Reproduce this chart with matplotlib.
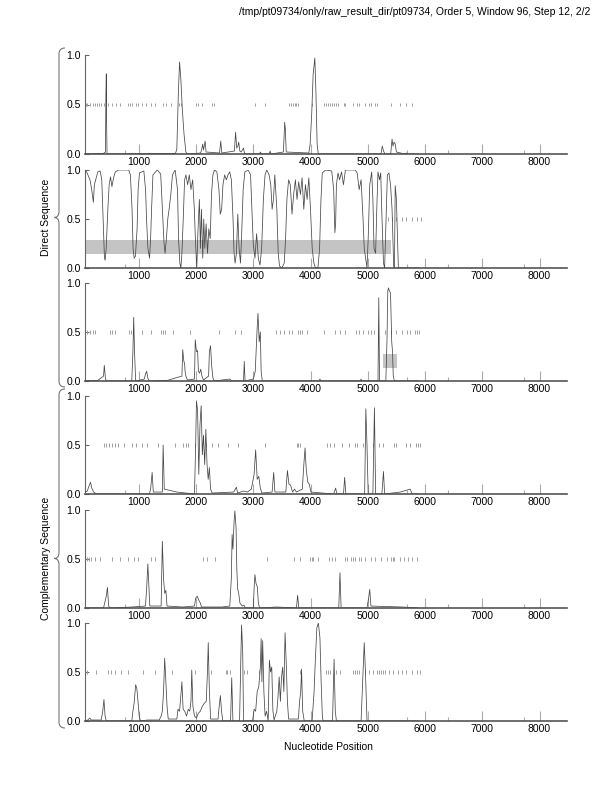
import numpy as np
import matplotlib
matplotlib.use("Agg")
import matplotlib.pyplot as plt
from matplotlib.path import Path
from matplotlib.patches import PathPatch, Rectangle

plt.rcParams['font.family'] = ['Liberation Sans', 'DejaVu Sans']

TITLE = "/tmp/pt09734/only/raw_result_dir/pt09734, Order 5, Window 96, Step 12, 2/2"
XTICKS = [1000, 2000, 3000, 4000, 5000, 6000, 7000, 8000]
MINOR_TICKS = [766, 5683, 6400, 7730]
YTICKS = [0.0, 0.5, 1.0]

# ---- panel 1 (direct, frame 1)
p1 = [(60, 0.0), (380, 0.005), (418, 0.02), (425, 0.6), (432, 0.81), (438, 0.3), (445, 0.0),
      (1640, 0.005), (1664, 0.05), (1690, 0.6), (1712, 0.93), (1735, 0.75), (1760, 0.45), (1790, 0.2),
      (1822, 0.02), (1850, 0.0), (2080, 0.01), (2100, 0.05), (2116, 0.1), (2130, 0.04), (2158, 0.13),
      (2175, 0.02), (2410, 0.01), (2431, 0.13), (2450, 0.01), (2670, 0.03), (2691, 0.22), (2710, 0.06),
      (2730, 0.08), (2745, 0.12), (2765, 0.03), (2790, 0.02), (2828, 0.06), (2850, 0.0), (3110, 0.0),
      (3123, 0.02), (3140, 0.0), (3280, 0.0), (3294, 0.03), (3310, 0.0), (3525, 0.02), (3540, 0.2),
      (3548, 0.32), (3560, 0.25), (3575, 0.02), (3970, 0.01), (3993, 0.1), (4020, 0.4), (4045, 0.8),
      (4075, 0.97), (4095, 0.6), (4115, 0.1), (4135, 0.0), (5230, 0.0), (5253, 0.08), (5275, 0.03),
      (5300, 0.0), (5400, 0.0), (5424, 0.15), (5440, 0.08), (5459, 0.12), (5479, 0.1), (5500, 0.02),
      (5650, 0.0), (5671, 0.01), (5700, 0.0), (5880, 0.0)]
p1_stops = [69, 103, 144, 192, 226, 274, 302, 343, 398, 466, 535, 603, 672, 809, 843, 877, 946, 980,
            1048, 1117, 1206, 1288, 1425, 1480, 1562, 1699, 1733, 2007, 2042, 2110, 2281, 2316, 3035,
            3206, 3617, 3651, 3686, 3720, 3754, 3788, 4028, 4234, 4268, 4302, 4336, 4371, 4405, 4439,
            4473, 4576, 4610, 4747, 4816, 4850, 4953, 5021, 5056, 5124, 5158, 5398, 5569, 5672, 5775]

# ---- panel 2 (direct, frame 2)
p2 = [(50, 0.99), (89, 0.98), (147, 0.9), (177, 0.8), (206, 0.67), (224, 0.85), (247, 0.9), (283, 0.98),
      (324, 0.99), (353, 0.9), (383, 0.4), (400, 0.1), (412, 0.08), (430, 0.2), (459, 0.6), (482, 0.85),
      (506, 0.93), (530, 0.83), (559, 0.92), (588, 0.98), (647, 1.0), (824, 1.0), (853, 0.95), (882, 0.6),
      (900, 0.2), (918, 0.1), (941, 0.12), (970, 0.4), (988, 0.8), (1012, 0.97), (1088, 0.99), (1118, 0.8),
      (1135, 0.5), (1159, 0.2), (1188, 0.1), (1206, 0.3), (1223, 0.6), (1247, 0.95), (1323, 1.0),
      (1382, 0.96), (1412, 0.6), (1441, 0.25), (1459, 0.15), (1482, 0.3), (1506, 0.5), (1529, 0.6),
      (1559, 0.75), (1588, 0.95), (1635, 1.0), (1676, 0.8), (1694, 0.3), (1717, 0.05), (1735, 0.0),
      (1753, 0.15), (1776, 0.5), (1800, 0.9), (1823, 0.95), (1853, 0.85), (1882, 0.95), (1911, 0.8),
      (1941, 0.9), (1970, 0.6), (1988, 0.3), (2012, 0.0), (2035, 0.4), (2058, 0.7), (2076, 0.2),
      (2094, 0.6), (2117, 0.1), (2135, 0.5), (2153, 0.2), (2176, 0.45), (2200, 0.15), (2223, 0.4),
      (2247, 0.3), (2270, 0.75), (2294, 0.95), (2323, 1.0), (2364, 0.98), (2400, 0.8), (2423, 0.55),
      (2447, 0.6), (2470, 0.85), (2500, 0.95), (2529, 0.9), (2558, 0.95), (2588, 0.98), (2617, 0.9),
      (2646, 0.5), (2664, 0.15), (2682, 0.05), (2705, 0.15), (2729, 0.55), (2752, 0.2), (2776, 0.05),
      (2794, 0.3), (2823, 0.8), (2852, 0.98), (2911, 1.0), (2952, 0.95), (2976, 0.6), (2999, 0.25),
      (3029, 0.1), (3058, 0.35), (3088, 0.1), (3117, 0.03), (3146, 0.2), (3176, 0.7), (3205, 0.95),
      (3235, 1.0), (3276, 0.95), (3305, 0.85), (3329, 0.6), (3352, 0.7), (3376, 0.95), (3411, 0.6),
      (3435, 0.15), (3458, 0.02), (3499, 0.0), (3540, 0.05), (3564, 0.3), (3587, 0.7), (3617, 0.9),
      (3646, 0.85), (3676, 0.55), (3705, 0.75), (3735, 0.9), (3764, 0.7), (3793, 0.88), (3823, 0.75),
      (3852, 0.92), (3882, 0.6), (3911, 0.85), (3940, 0.7), (3970, 0.92), (3999, 0.6), (4029, 0.2),
      (4058, 0.05), (4087, 0.0), (4129, 0.0), (4158, 0.2), (4182, 0.7), (4205, 0.97), (4264, 1.0),
      (4370, 0.99), (4404, 0.8), (4425, 0.36), (4438, 0.45), (4452, 0.85), (4480, 0.97), (4507, 0.9),
      (4541, 0.98), (4575, 0.85), (4609, 1.0), (4780, 1.0), (4815, 0.97), (4849, 0.8), (4883, 0.9),
      (4917, 0.5), (4938, 0.2), (4966, 0.08), (4986, 0.0), (5007, 0.3), (5034, 0.85), (5068, 0.98),
      (5089, 0.7), (5109, 0.2), (5137, 0.15), (5157, 0.6), (5178, 0.98), (5205, 0.9), (5226, 0.97),
      (5246, 0.55), (5274, 0.05), (5294, 0.0), (5315, 0.4), (5342, 0.95), (5369, 0.97), (5397, 0.85),
      (5424, 0.6), (5452, 0.02), (5466, 0.0), (5479, 0.84), (5500, 0.7), (5520, 0.3), (5534, 0.0),
      (5880, 0.0)]
p2_stops = [5349, 5418, 5500, 5589, 5671, 5774, 5863, 5931]
p2_box = (50, 5397, 0.142, 0.288)

# ---- panel 3 (direct, frame 3)
p3 = [(60, 0.0), (280, 0.005), (384, 0.05), (397, 0.16), (418, 0.02), (440, 0.0), (877, 0.0), (897, 0.3),
      (911, 0.65), (925, 0.3), (945, 0.0), (1096, 0.02), (1116, 0.07), (1137, 0.1), (1158, 0.03),
      (1180, 0.0), (1493, 0.005), (1753, 0.05), (1767, 0.32), (1787, 0.2), (1800, 0.18), (1808, 0.1),
      (1822, 0.05), (1850, 0.01), (1973, 0.02), (1986, 0.42), (2007, 0.3), (2027, 0.31), (2041, 0.1),
      (2062, 0.08), (2082, 0.12), (2103, 0.05), (2130, 0.01), (2219, 0.05), (2233, 0.3), (2253, 0.36),
      (2274, 0.15), (2295, 0.03), (2320, 0.0), (2589, 0.02), (2623, 0.0), (2829, 0.0), (2842, 0.2),
      (2856, 0.0), (3000, 0.02), (3034, 0.1), (3068, 0.55), (3082, 0.69), (3103, 0.4), (3123, 0.5),
      (3137, 0.1), (3157, 0.0), (4150, 0.0), (4164, 0.02), (4180, 0.0), (4870, 0.0), (4883, 0.02),
      (4895, 0.0), (5178, 0.0), (5192, 0.85), (5205, 0.0), (5315, 0.0), (5335, 0.4), (5349, 0.92),
      (5362, 0.95), (5376, 0.92), (5397, 0.9), (5418, 0.4), (5432, 0.3), (5445, 0.05), (5466, 0.0),
      (5880, 0.0)]
p3_stops = [89, 144, 192, 226, 500, 534, 582, 822, 863, 1048, 1205, 1390, 1425, 1459, 1596, 1890, 2404,
            2678, 2781, 3397, 3466, 3534, 3616, 3671, 3774, 3808, 3856, 3945, 4233, 4425, 4507, 4609,
            4801, 4849, 4918, 5000, 5055, 5103, 5294, 5411, 5500, 5603, 5692, 5740, 5829, 5863, 5897]
p3_box = (5260, 5507, 0.136, 0.28)

# ---- panel 4 (complementary, frame 1)
p4 = [(54, 0.02), (100, 0.03), (123, 0.07), (157, 0.12), (178, 0.06), (212, 0.02), (260, 0.0), (1185, 0.0),
      (1206, 0.05), (1233, 0.22), (1253, 0.02), (1411, 0.02), (1425, 0.5), (1445, 0.05), (1664, 0.02),
      (1973, 0.0), (1993, 0.5), (2007, 0.95), (2027, 0.85), (2048, 0.2), (2068, 0.7), (2089, 0.9),
      (2110, 0.4), (2130, 0.6), (2151, 0.3), (2171, 0.66), (2192, 0.3), (2212, 0.15), (2233, 0.27),
      (2253, 0.05), (2281, 0.01), (2658, 0.02), (2705, 0.07), (2726, 0.01), (2829, 0.03), (2897, 0.02),
      (2966, 0.05), (3014, 0.2), (3041, 0.45), (3068, 0.15), (3096, 0.18), (3123, 0.06), (3150, 0.01),
      (3329, 0.02), (3356, 0.22), (3377, 0.02), (3568, 0.02), (3596, 0.24), (3623, 0.1), (3651, 0.09),
      (3686, 0.02), (3720, 0.05), (3754, 0.02), (3856, 0.05), (3883, 0.3), (3904, 0.47), (3925, 0.25),
      (3952, 0.12), (3979, 0.1), (4007, 0.02), (4404, 0.0), (4439, 0.06), (4459, 0.0), (4576, 0.0),
      (4596, 0.17), (4617, 0.0), (4945, 0.0), (4966, 0.87), (4986, 0.5), (5007, 0.0), (5089, 0.0),
      (5116, 0.88), (5137, 0.0), (5246, 0.0), (5274, 0.23), (5294, 0.0), (5569, 0.02), (5740, 0.05),
      (5774, 0.0), (5880, 0.0)]
p4_stops = [384, 432, 486, 534, 589, 637, 740, 877, 946, 1048, 1137, 1342, 1630, 1767, 1822, 1856, 1973,
            2178, 2281, 2384, 2555, 2726, 3206, 3767, 3788, 3822, 4288, 4336, 4404, 4541, 4678, 4781,
            4815, 4918, 5089, 5192, 5260, 5452, 5500, 5671, 5740, 5843, 5877, 5911]

# ---- panel 5 (complementary, frame 2)
p5 = [(60, 0.0), (384, 0.0), (411, 0.07), (432, 0.12), (452, 0.21), (473, 0.02), (500, 0.0), (877, 0.01),
      (1117, 0.02), (1137, 0.2), (1158, 0.45), (1178, 0.2), (1192, 0.02), (1390, 0.02), (1411, 0.68),
      (1432, 0.3), (1452, 0.15), (1473, 0.18), (1493, 0.02), (1767, 0.01), (1973, 0.02), (1993, 0.1),
      (2021, 0.12), (2048, 0.08), (2075, 0.05), (2096, 0.01), (2452, 0.01), (2589, 0.02), (2616, 0.3),
      (2630, 0.75), (2644, 0.6), (2664, 0.88), (2678, 0.99), (2699, 0.82), (2712, 0.4), (2726, 0.2),
      (2747, 0.14), (2767, 0.05), (2808, 0.02), (2836, 0.03), (2863, 0.0), (3000, 0.0), (3014, 0.2),
      (3028, 0.34), (3048, 0.25), (3069, 0.22), (3089, 0.05), (3110, 0.0), (3411, 0.01), (3754, 0.0),
      (3774, 0.13), (3795, 0.0), (4493, 0.0), (4514, 0.36), (4534, 0.0), (4986, 0.0), (5014, 0.1),
      (5034, 0.19), (5055, 0.02), (5603, 0.01), (5880, 0.0)]
p5_stops = [89, 124, 158, 226, 315, 534, 671, 808, 911, 980, 1219, 1288, 2130, 2199, 2336, 3240, 3719,
            3822, 3993, 4027, 4048, 4130, 4322, 4370, 4425, 4609, 4644, 4698, 4733, 4781, 4849, 4883,
            4952, 5055, 5123, 5226, 5329, 5397, 5432, 5466, 5569, 5637, 5706, 5774, 5863]

# ---- panel 6 (complementary, frame 3)
p6 = [(60, 0.0), (89, 0.0), (144, 0.03), (171, 0.01), (343, 0.01), (370, 0.1), (391, 0.22), (411, 0.05),
      (432, 0.0), (877, 0.0), (897, 0.1), (918, 0.18), (945, 0.37), (966, 0.33), (986, 0.2), (1007, 0.05),
      (1028, 0.0), (1151, 0.01), (1356, 0.01), (1390, 0.05), (1411, 0.1), (1432, 0.3), (1452, 0.64),
      (1473, 0.4), (1493, 0.15), (1514, 0.02), (1664, 0.02), (1685, 0.12), (1712, 0.1), (1733, 0.25),
      (1753, 0.4), (1774, 0.12), (1801, 0.1), (1835, 0.05), (1863, 0.12), (1890, 0.1), (1911, 0.2),
      (1925, 0.52), (1945, 0.15), (1973, 0.05), (2007, 0.03), (2041, 0.08), (2075, 0.1), (2110, 0.15),
      (2144, 0.18), (2178, 0.2), (2199, 0.5), (2213, 0.8), (2233, 0.3), (2254, 0.02), (2384, 0.02),
      (2404, 0.15), (2425, 0.26), (2445, 0.1), (2466, 0.0), (2603, 0.0), (2623, 0.44), (2644, 0.0),
      (2760, 0.0), (2781, 0.6), (2795, 0.98), (2815, 0.7), (2829, 0.0), (2987, 0.0), (3014, 0.12),
      (3041, 0.1), (3068, 0.3), (3096, 0.35), (3123, 0.55), (3137, 0.84), (3150, 0.4), (3164, 0.82),
      (3185, 0.3), (3206, 0.05), (3233, 0.1), (3260, 0.0), (3281, 0.62), (3302, 0.5), (3322, 0.55),
      (3343, 0.1), (3363, 0.01), (3411, 0.1), (3432, 0.25), (3452, 0.45), (3473, 0.2), (3493, 0.45),
      (3514, 0.55), (3534, 0.3), (3555, 0.9), (3575, 0.6), (3596, 0.2), (3616, 0.02), (3788, 0.02),
      (3808, 0.2), (3829, 0.3), (3843, 0.53), (3863, 0.1), (3890, 0.0), (4027, 0.0), (4062, 0.3),
      (4082, 0.6), (4110, 0.95), (4137, 1.0), (4164, 0.85), (4185, 0.4), (4206, 0.05), (4219, 0.0),
      (4384, 0.0), (4411, 0.63), (4432, 0.1), (4452, 0.0), (4883, 0.0), (4917, 0.5), (4938, 0.8),
      (4959, 0.5), (4986, 0.0), (5880, 0.0)]
p6_stops = [89, 247, 466, 521, 589, 685, 808, 1069, 1288, 1582, 1973, 2267, 2521, 2541, 2589, 2829, 2897,
            3103, 3822, 4267, 4302, 4336, 4439, 4507, 4747, 4781, 4815, 4849, 4952, 5021, 5089, 5158,
            5192, 5226, 5261, 5295, 5363, 5432, 5534, 5603, 5672, 5775, 5864, 5912]

panels = [(p1, p1_stops, None), (p2, p2_stops, p2_box), (p3, p3_stops, p3_box),
          (p4, p4_stops, None), (p5, p5_stops, None), (p6, p6_stops, None)]

W, H = 612, 792
fig = plt.figure(figsize=(W / 100, H / 100), dpi=100)

# pixel rows of each panel (top = 1.0, bottom = 0.0)
rows = [(55, 154), (170, 268), (283, 381), (396, 494), (510, 608), (623, 721)]
left_px, right_px = 85, 567

for (pts, stops, box), (top, bot) in zip(panels, rows):
    ax = fig.add_axes([left_px / W, 1 - bot / H, (right_px - left_px) / W, (bot - top) / H])
    ax.set_xlim(60, 8480)
    ax.set_ylim(0, 1)
    if box is not None:
        ax.add_patch(Rectangle((box[0], box[2]), box[1] - box[0], box[3] - box[2],
                               facecolor='#c4c4c4', edgecolor='none', zorder=1))
    ax.vlines(stops, 0.48, 0.52, colors='#a0a0a0', linewidth=0.7, zorder=2)
    ax.vlines(MINOR_TICKS, 0, 0.04, colors='#aaaaaa', linewidth=0.8, zorder=2)
    xs = [p[0] for p in pts]
    ys = [p[1] for p in pts]
    ax.plot(xs, ys, color='#474747', linewidth=0.55, zorder=3)
    for s in ['top', 'right']:
        ax.spines[s].set_visible(False)
    ax.spines['left'].set_color('#666666')
    ax.spines['left'].set_linewidth(0.8)
    ax.spines['bottom'].set_color('#555555')
    ax.spines['bottom'].set_linewidth(1.2)
    ax.set_xticks(XTICKS)
    ax.set_xticklabels([str(t) for t in XTICKS])
    ax.set_yticks(YTICKS)
    ax.set_yticklabels(['0.0', '0.5', '1.0'])
    ax.tick_params(axis='x', direction='in', length=7, width=0.8, color='#aaaaaa',
                   labelsize=7.5, pad=2)
    ax.tick_params(axis='y', direction='in', length=3, width=0.8, color='#666666',
                   labelsize=7.5, pad=3)


def brace(y_top, y_bot, x_end=65, x_line=59, x_tip=54, r=6):
    ym = (y_top + y_bot) / 2
    verts = [(x_end, y_top), (x_line, y_top), (x_line, y_top + r),
             (x_line, ym - r), (x_line, ym), (x_tip, ym),
             (x_line, ym), (x_line, ym + r),
             (x_line, y_bot - r), (x_line, y_bot), (x_end, y_bot)]
    codes = [Path.MOVETO, Path.CURVE3, Path.CURVE3,
             Path.LINETO, Path.CURVE3, Path.CURVE3,
             Path.CURVE3, Path.CURVE3,
             Path.LINETO, Path.CURVE3, Path.CURVE3]
    verts = [(x / W, 1 - y / H) for x, y in verts]
    fig.add_artist(PathPatch(Path(verts, codes), transform=fig.transFigure,
                             facecolor='none', edgecolor='#777777', linewidth=0.8))
    return ym


ym1 = brace(48, 387)
ym2 = brace(389, 728)
fig.text(46 / W, 1 - ym1 / H, "Direct Sequence", rotation=90, ha='center', va='center', fontsize=7.5)
fig.text(46 / W, 1 - ym2 / H, "Complementary Sequence", rotation=90, ha='center', va='center', fontsize=7.5)

fig.text(590 / W, 1 - 12 / H, TITLE, ha='right', va='center', fontsize=7.5)
fig.text(328 / W, 1 - 747 / H, "Nucleotide Position", ha='center', va='center', fontsize=7.5)

fig.savefig("out.png", dpi=100)
